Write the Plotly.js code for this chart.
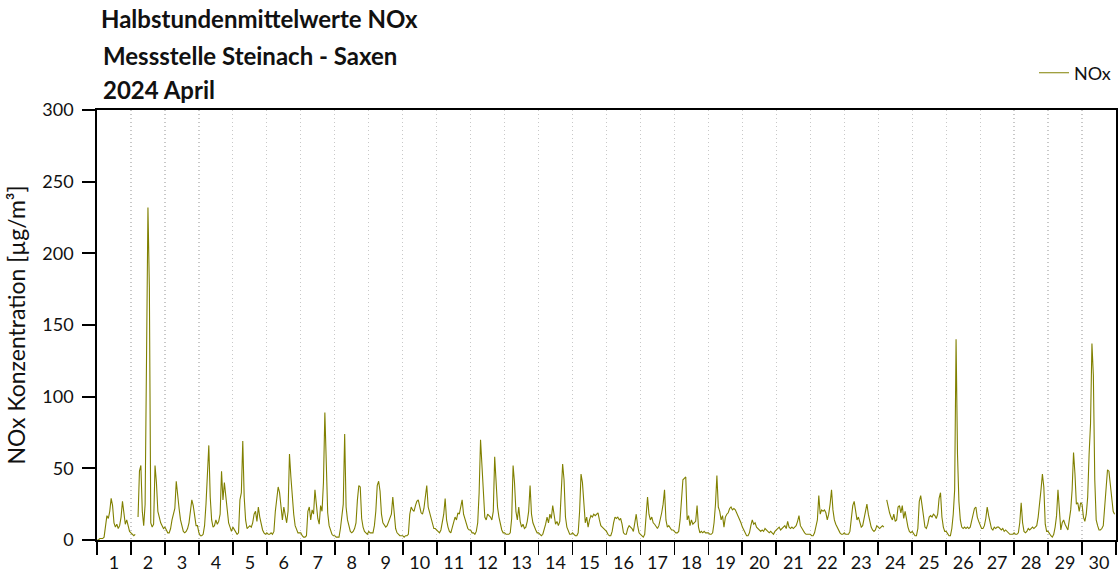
<!DOCTYPE html>
<html><head><meta charset="utf-8">
<script src="https://cdn.plot.ly/plotly-3.0.1.min.js"></script>
<style>html,body{margin:0;padding:0;background:#fff}#chart{width:1118px;height:576px}</style>
</head><body><div id="chart"></div>
<script>
const dayLabels = ['1','2','3','4','5','6','7','8','9','10','11','12','13','14','15','16','17','18','19','20','21','22','23','24','25','26','27','28','29','30'];
const yTicks = [0, 50, 100, 150, 200, 250, 300];
const d01 = [0,0,1,1,1,2,10,17,15,20,29,24,12,9,11,8,10,16,27,18,11,14,9,6];
const d02 = [5,4,3,4,null,16,48,52,20,10,25,127,232,176,12,9,11,52,40,20,15,12,10,8];
const d03 = [9,7,5,5,8,14,18,22,41,30,22,14,9,6,5,6,8,12,20,28,24,15,10,10];
const d04 = [5,3,3,4,10,25,45,66,30,14,9,10,14,11,13,18,48,28,40,30,22,12,9,6];
const d05 = [9,7,5,4,5,28,33,69,30,14,8,9,10,9,12,18,20,13,23,16,10,7,5,4];
const d06 = [5,4,4,5,4,6,20,30,37,33,22,14,23,16,12,20,60,44,30,18,10,7,5,5];
const d07 = [5,3,2,2,3,20,23,14,21,18,35,25,15,11,24,20,40,89,42,19,10,6,4,3];
const d08 = [3,2,2,2,8,16,25,74,23,14,9,6,5,6,8,12,28,38,37,15,9,6,5,4];
const d09 = [6,5,5,5,10,20,38,41,34,18,12,10,9,10,13,16,18,30,15,8,5,4,3,3];
const d10 = [3,2,3,3,4,18,23,21,20,24,27,28,22,19,18,22,30,38,23,19,14,10,8,8];
const d11 = [7,6,5,7,12,18,29,14,9,6,5,9,13,16,14,19,18,22,28,18,14,10,8,7];
const d12 = [7,5,5,4,6,12,33,70,51,30,16,14,18,17,16,14,20,58,40,23,16,10,7,5];
const d13 = [5,4,4,4,5,15,52,40,20,14,23,13,9,11,8,9,13,20,38,18,12,9,7,5];
const d14 = [5,4,3,4,7,11,16,12,18,15,24,16,11,13,10,13,40,53,42,16,9,6,4,4];
const d15 = [5,4,3,3,5,20,46,40,22,12,16,9,14,17,16,18,17,18,19,14,10,9,8,7];
const d16 = [6,4,3,3,6,12,16,15,16,14,15,11,5,4,4,8,10,9,8,6,12,18,10,5];
const d17 = [4,3,2,4,15,30,18,14,16,12,11,9,8,10,14,19,25,35,14,9,10,8,7,7];
const d18 = [6,5,5,6,14,33,42,43,44,14,17,10,14,11,12,13,24,9,5,6,5,6,5,5];
const d19 = [5,4,4,5,12,25,45,23,20,14,17,9,16,18,19,22,23,21,22,21,19,17,14,12];
const d20 = [9,7,4,3,3,5,10,14,11,12,9,8,7,6,7,6,8,7,6,5,6,5,4,6];
const d21 = [7,8,9,7,8,9,10,8,13,9,8,9,8,9,10,13,17,10,8,6,5,4,4,4];
const d22 = [4,3,3,5,10,14,31,18,21,20,21,19,14,18,25,35,21,14,11,9,6,5,4,4];
const d23 = [5,4,4,4,6,18,24,27,21,14,16,12,9,10,16,22,25,18,12,9,7,6,7,10];
const d24 = [9,8,9,10,9,null,28,23,19,16,14,18,13,14,23,24,19,24,15,20,14,9,6,5];
const d25 = [6,4,3,3,8,27,31,24,14,9,8,11,16,17,16,18,17,15,18,29,33,16,9,6];
const d26 = [6,4,3,3,8,18,35,140,60,27,14,9,8,9,8,9,8,9,13,17,22,23,16,13];
const d27 = [10,8,8,10,15,23,17,11,8,7,9,8,9,9,8,7,8,6,7,6,5,4,4,4];
const d28 = [5,4,4,5,12,26,12,6,5,6,8,7,8,9,8,9,10,16,24,35,46,37,11,6];
const d29 = [6,4,3,2,4,9,17,35,17,7,12,14,11,9,7,14,21,35,61,46,25,26,20,26];
const d30 = [25,16,13,18,30,60,81,137,115,42,14,10,7,7,8,10,25,40,49,48,37,30,20,18];

const dayValues = [d01,d02,d03,d04,d05,d06,d07,d08,d09,d10,d11,d12,d13,d14,d15,d16,d17,d18,d19,d20,d21,d22,d23,d24,d25,d26,d27,d28,d29,d30];

// time axis: day number + fraction of day
const xs = [], ys = [];
dayValues.forEach((vals, i) => {
  vals.forEach((v, h) => { xs.push(i + 1 + h / vals.length); ys.push(v); });
});
const nDays = dayLabels.length;
const dayCenters = dayLabels.map((_, i) => i + 1.5);
const dayBounds = Array.from({length: nDays + 1}, (_, i) => i + 1);

const FONT = 'Lato, "Open Sans", sans-serif';
const TXT = '#111111';

const trace = {
  x: xs, y: ys, type: 'scatter', mode: 'lines', name: 'NOx',
  line: {color: '#808000', width: 1.1}, connectgaps: false, hoverinfo: 'skip'
};

const layout = {
  width: 1118, height: 576,
  margin: {l: 97, r: 2, t: 110, b: 36, pad: 0},
  paper_bgcolor: '#ffffff', plot_bgcolor: '#ffffff',
  font: {family: FONT, color: TXT},
  title: {
    text: '<b>Halbstundenmittelwerte NOx</b>',
    xref: 'container', x: 101 / 1118, xanchor: 'left',
    yref: 'container', y: 1 - 20 / 576, yanchor: 'middle',
    font: {family: FONT, size: 24, color: TXT}
  },
  annotations: [
    {text: '<b>Messstelle Steinach - Saxen</b>', xref: 'paper', yref: 'paper',
     x: 4 / 1019, y: (540 - 55) / 430, xanchor: 'left', yanchor: 'middle', showarrow: false,
     font: {family: FONT, size: 24, color: TXT}},
    {text: '<b>2024 April</b>', xref: 'paper', yref: 'paper',
     x: 4 / 1019, y: (540 - 90) / 430, xanchor: 'left', yanchor: 'middle', showarrow: false,
     font: {family: FONT, size: 24, color: TXT}}
  ],
  showlegend: true,
  legend: {x: 1, xanchor: 'right', y: (540 - 73) / 430, yanchor: 'middle', orientation: 'h',
           font: {family: FONT, size: 18, color: TXT}, bgcolor: 'rgba(0,0,0,0)'},
  xaxis: {
    range: [1, 1 + nDays], showline: true, linecolor: '#000', linewidth: 1.8, mirror: true,
    tickmode: 'array', tickvals: dayCenters, ticktext: dayLabels, ticks: '',
    showgrid: false, zeroline: false, ticklabelstandoff: 6,
    tickfont: {family: FONT, size: 18, color: TXT},
    minor: {tickmode: 'array', tickvals: dayBounds, ticks: 'outside', ticklen: 13, tickwidth: 1.8,
            tickcolor: '#000', showgrid: true, gridcolor: '#c8c8c8', griddash: '1px,3px', gridwidth: 1.2}
  },
  yaxis: {
    range: [0, 300], showline: true, linecolor: '#000', linewidth: 1.8, mirror: true,
    tickmode: 'array', tickvals: yTicks, ticks: 'outside', ticklen: 13, tickwidth: 1.8, tickcolor: '#000',
    showgrid: false, zeroline: false, ticklabelstandoff: 5,
    tickfont: {family: FONT, size: 18, color: TXT},
    title: {text: 'NOx Konzentration [µg/m³]', font: {family: FONT, size: 23, color: TXT}, standoff: 10}
  }
};

Plotly.newPlot('chart', [trace], layout, {displayModeBar: false, staticPlot: true});
</script>
</body></html>
